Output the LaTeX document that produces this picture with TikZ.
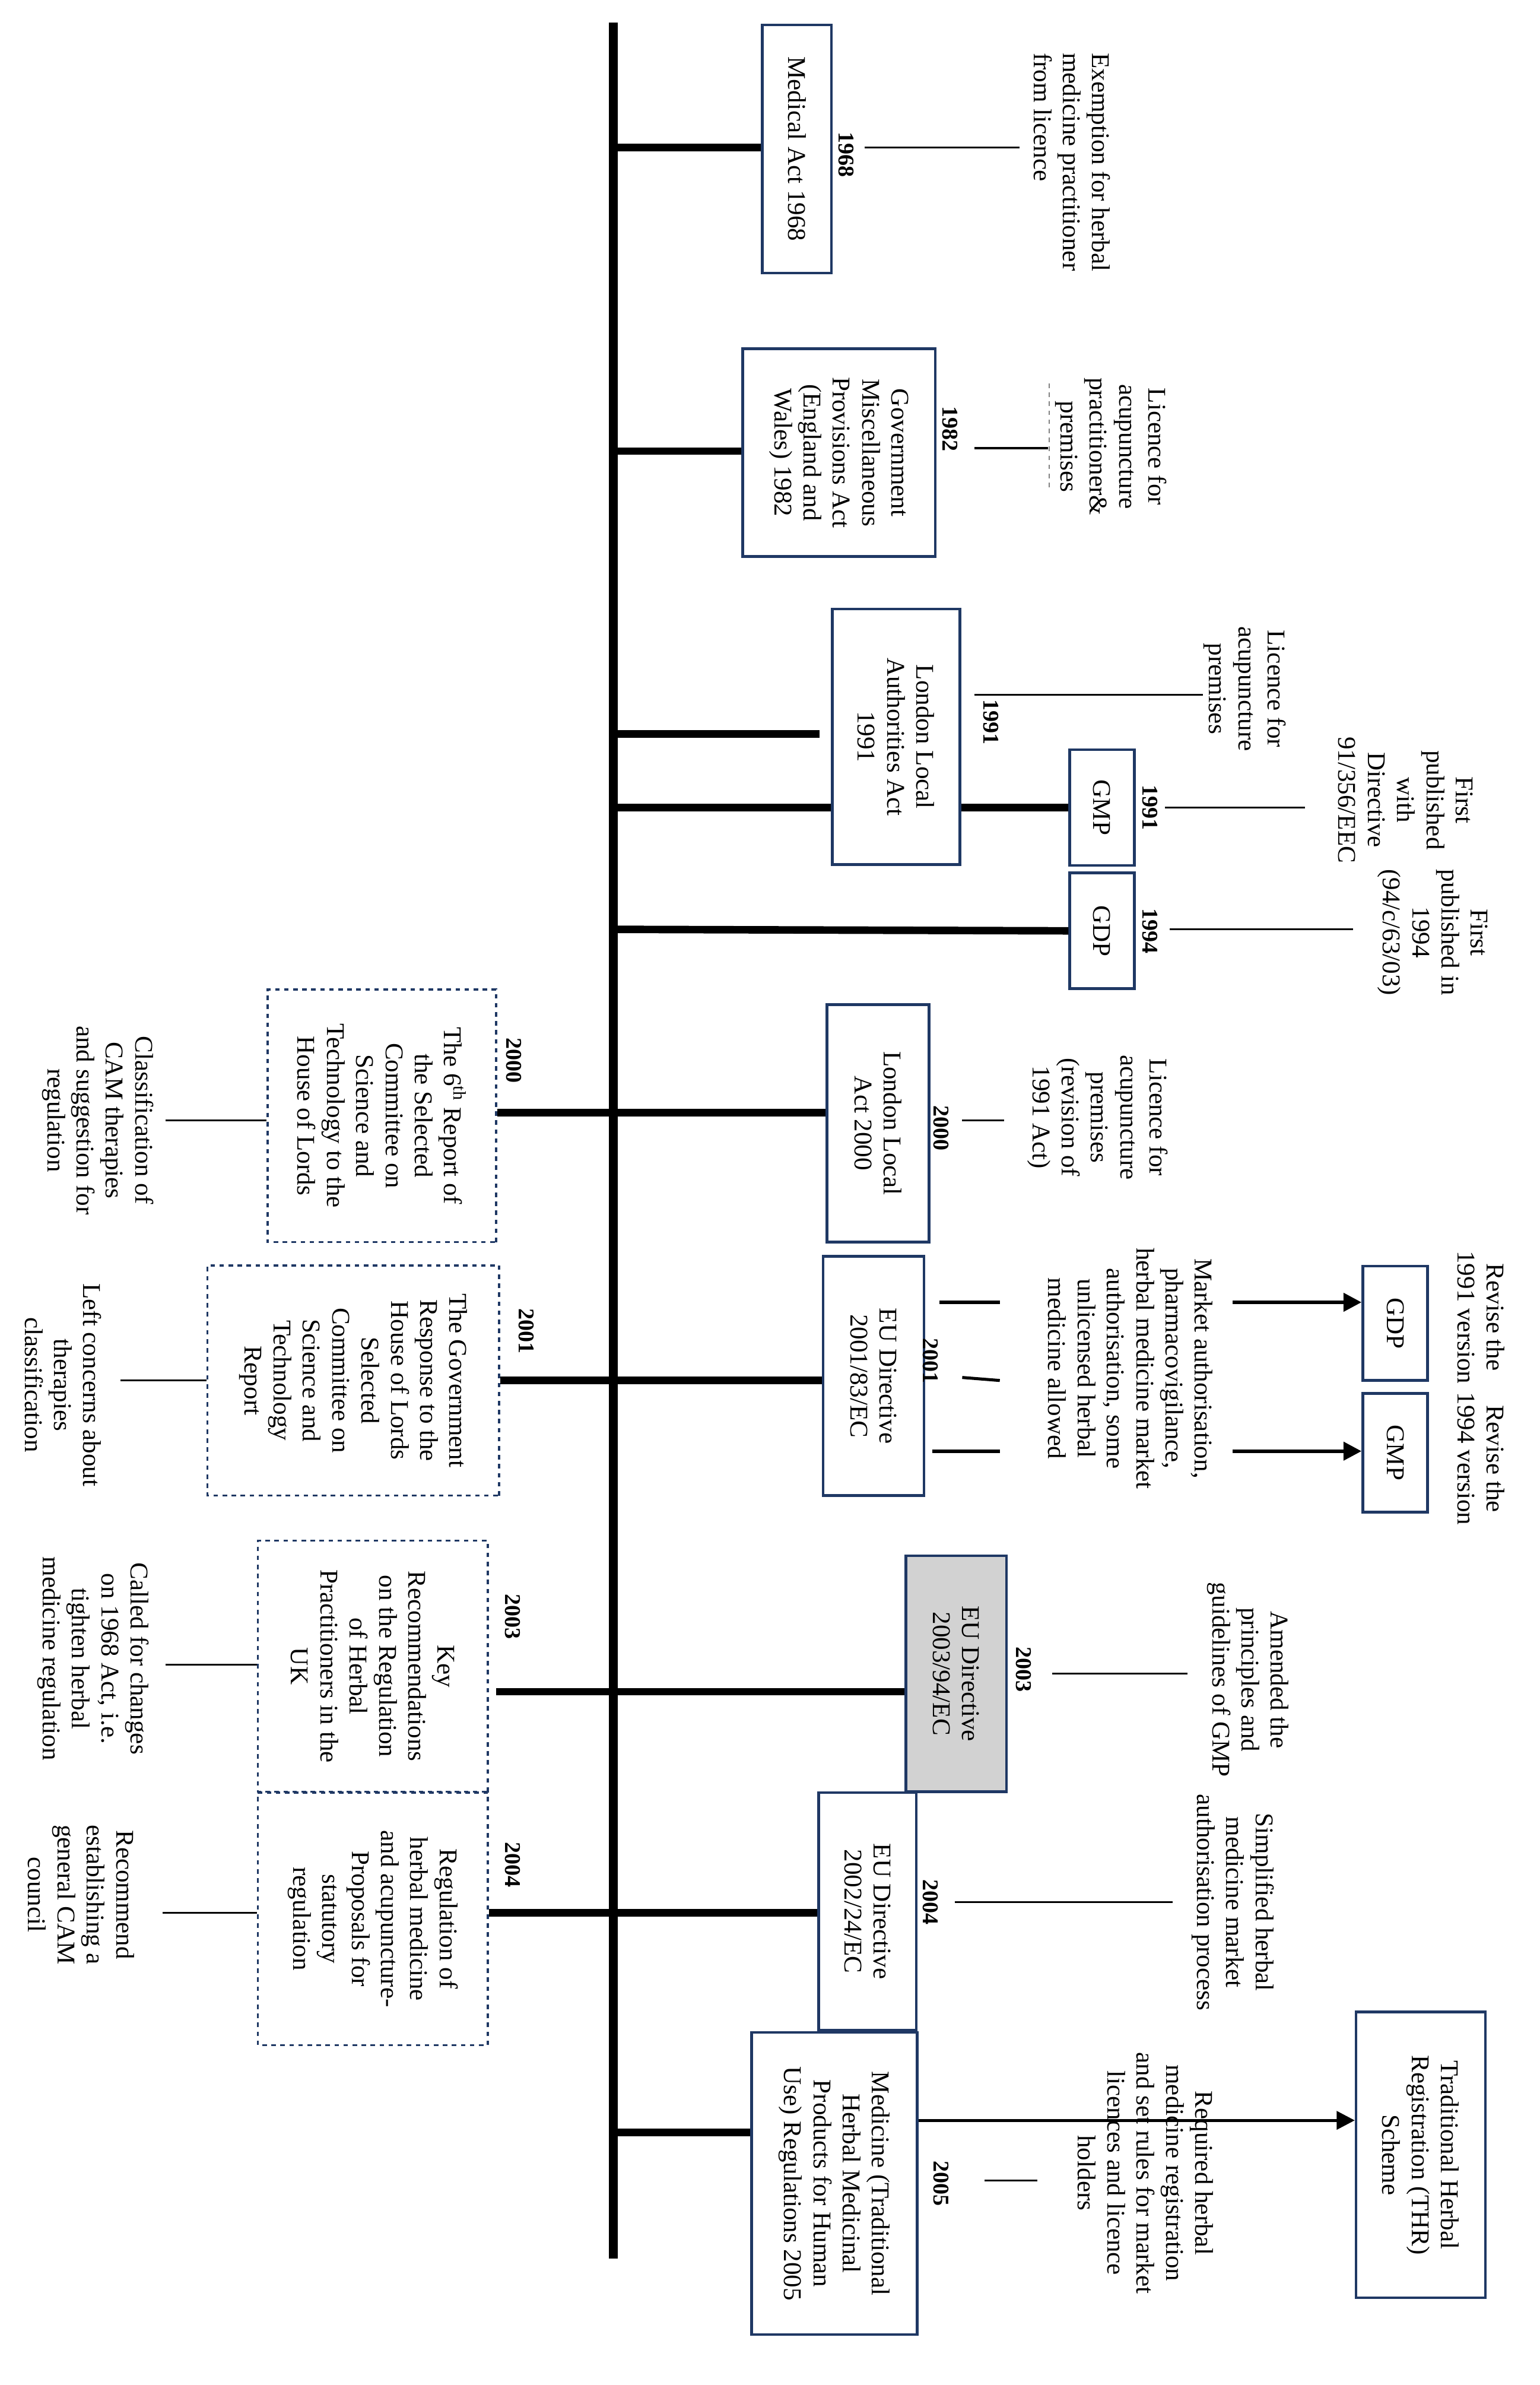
\documentclass[tikz,border=0pt]{standalone}
\usepackage{fontspec}
\setmainfont{Liberation Serif}
\usetikzlibrary{arrows.meta}
\definecolor{navy}{HTML}{1F3864}
\begin{document}
\begin{tikzpicture}[x=1pt,y=-1pt,
  txt/.style={rotate=-90,align=center,font=\fontsize{17}{19.5}\selectfont,inner sep=0pt},
  yr/.style={rotate=-90,font=\fontsize{15}{18}\selectfont\bfseries,inner sep=0pt},
  box/.style={rotate=-90,draw=navy,line width=1.8pt,align=center,font=\fontsize{17}{19.5}\selectfont,inner sep=1pt},
  dbox/.style={box,dashed,line width=1.3pt},
  thick line/.style={line width=5pt},
  thin line/.style={line width=1.3pt},
  arr/.style={line width=2.5pt,-{Triangle[length=12pt,width=12pt]}}]
\useasboundingbox (0,0) rectangle (1024,1586);
% spine
\coordinate (top) at (408,15); \coordinate (bot) at (408,1502);
\draw[line width=6pt] (top) -- (bot);
% 1968
\node[box,minimum width=165,minimum height=46] (b68) at (530,99) {Medical Act 1968};
\draw[thick line] (408,98) -- (b68.south |- 0,98);
\node[yr] (y68) at (563,103) {1968};
\draw[thin line] (575,98) -- (678,98);
\node[txt,anchor=west,align=left] (t68) at (713,35) {Exemption for herbal\\medicine practitioner\\from licence};
% 1982
\node[box,minimum width=138,minimum height=128] (b82) at (558,301) {Government\\Miscellaneous\\Provisions Act\\(England and\\Wales) 1982};
\draw[thick line] (408,300) -- (b82.south |- 0,300);
\node[yr] (y82) at (632,285) {1982};
\draw[thin line] (648,298) -- (697,298);
\draw[gray,dashed,line width=0.8pt] (698,255) -- (698,325);
\node[txt] (t82) at (739,297) {Licence for\\acupuncture\\practitioner\&\\premises};
% 1991 London
\node[box,minimum width=170,minimum height=85] (b91) at (596,490) {London Local\\Authorities Act\\1991};
\draw[thick line] (408,488) -- (545,488);
\draw[thick line] (408,537) -- (b91.south |- 0,537);
\node[yr] (y91) at (659,480) {1991};
\draw[thin line] (648,462) -- (800,462);
\node[txt] (t91) at (828,458) {Licence for\\acupuncture\\premises};
% GMP 1991
\node[box,minimum width=77,minimum height=43] (gmp1) at (733,537) {GMP};
\draw[thick line] (b91.north |- 0,537) -- (gmp1.south);
\node[yr] (yg1) at (765,537) {1991};
\draw[thin line] (775,537) -- (868,537);
\node[txt] (tg1) at (935,532) {First\\published\\with\\Directive\\91/356/EEC};
% GDP 1994
\node[box,minimum width=77,minimum height=43] (gdp1) at (733,619) {GDP};
\draw[thick line] (408,618) -- (gdp1.south);
\node[yr] (yg2) at (765,619) {1994};
\draw[thin line] (778,618) -- (900,618);
\node[txt] (tg2) at (953,620) {First\\published in\\1994\\(94/c/63/03)};
% 2000
\node[dbox,minimum width=168,minimum height=152] (d00) at (254,742) {The 6\textsuperscript{th} Report of\\the Selected\\Committee on\\Science and\\Technology to the\\House of Lords};
\node[box,minimum width=158,minimum height=68] (b00) at (584,747) {London Local\\Act 2000};
\draw[thick line] (d00.north |- 0,740) -- (b00.south |- 0,740);
\node[yr] (y00a) at (342,705) {2000};
\node[yr] (y00b) at (626,750) {2000};
\draw[thin line] (110,745) -- (d00.south |- 0,745);
\draw[thin line] (640,745) -- (668,745);
\node[txt] (l00) at (65,745) {Classification of\\CAM therapies\\and suggestion for\\regulation};
\node[txt] (r00) at (730,743) {Licence for\\acupuncture\\premises\\(revision of\\1991 Act)};
% 2001
\node[dbox,minimum width=153,minimum height=194] (d01) at (235,918) {The Government\\Response to the\\House of Lords\\Selected\\Committee on\\Science and\\Technology\\Report};
\node[box,minimum width=159,minimum height=67] (b01) at (581,915) {EU Directive\\2001/83/EC};
\draw[thick line] (d01.north |- 0,918) -- (b01.south |- 0,918);
\node[yr] (y01a) at (350,885) {2001};
\node[yr] (y01b) at (619,905) {2001};
\draw[thin line] (80,918) -- (d01.south |- 0,918);
\node[txt] (l01) at (42,921) {Left concerns about\\therapies\\classification};
\draw[line width=2.5pt] (625,866) -- (665,866);
\draw[line width=2pt] (640,916) -- (665,918);
\draw[line width=2.5pt] (620,965) -- (665,965);
\node[txt] (t01) at (752,910) {Market authorisation,\\pharmacovigilance,\\herbal medicine market\\authorisation, some\\unlicensed herbal\\medicine allowed};
\node[box,minimum width=76,minimum height=43] (gdp2) at (928,880) {GDP};
\node[box,minimum width=79,minimum height=43] (gmp2) at (928,966) {GMP};
\coordinate (a1) at (820,866); \coordinate (a2) at (820,965);
\draw[arr] (a1) -- (gdp2.south |- a1);
\draw[arr] (a2) -- (gmp2.south |- a2);
\node[txt] (rv1) at (985,876) {Revise the\\1991 version};
\node[txt] (rv2) at (985,970) {Revise the\\1994 version};
% 2003
\node[dbox,minimum width=167,minimum height=153] (d03) at (248,1108) {Key\\Recommendations\\on the Regulation\\of Herbal\\Practitioners in the\\UK};
\node[box,fill=gray!35,minimum width=157,minimum height=67] (b03) at (636,1113) {EU Directive\\2003/94/EC};
\draw[thick line] (330,1125) -- (b03.south |- 0,1125);
\node[yr] (y03a) at (341,1075) {2003};
\node[yr] (y03b) at (681,1110) {2003};
\draw[thin line] (110,1107) -- (d03.south |- 0,1107);
\node[txt] (l03) at (62,1103) {Called for changes\\on 1968 Act, i.e.\\tighten herbal\\medicine regulation};
\draw[thin line] (700,1113) -- (790,1113);
\node[txt] (r03) at (830,1117) {Amended the\\principles and\\guidelines of GMP};
% 2004
\node[dbox,minimum width=168,minimum height=153] (d04) at (248,1276) {Regulation of\\herbal medicine\\and acupuncture-\\Proposals for\\statutory\\regulation};
\node[box,minimum width=158,minimum height=65] (b04) at (577,1271) {EU Directive\\2002/24/EC};
\draw[thick line] (d04.north |- 0,1272) -- (b04.south |- 0,1272);
\node[yr] (y04a) at (341,1240) {2004};
\node[yr] (y04b) at (619,1265) {2004};
\draw[thin line] (108,1272) -- (d04.south |- 0,1272);
\node[txt] (l04) at (54,1260) {Recommend\\establishing a\\general CAM\\council};
\draw[thin line] (635,1265) -- (780,1265);
\node[txt] (r04) at (820,1265) {Simplified herbal\\medicine market\\authorisation process};
% 2005
\node[box,minimum width=201,minimum height=110] (b05) at (555,1452) {Medicine (Traditional\\Herbal Medicinal\\Products for Human\\Use) Regulations 2005};
\draw[thick line] (408,1418) -- (b05.south |- 0,1418);
\node[box,minimum width=190,minimum height=86] (thr) at (945,1433) {Traditional Herbal\\Registration (THR)\\Scheme};
\draw[arr,line width=2pt] (b05.north |- 0,1410) -- (thr.south |- 0,1410);
\node[yr] (y05) at (626,1452) {2005};
\draw[thin line] (655,1450) -- (690,1450);
\node[txt] (t05) at (762,1445) {Required herbal\\medicine registration\\and set rules for market\\licences and licence\\holders};
\end{tikzpicture}
\end{document}
